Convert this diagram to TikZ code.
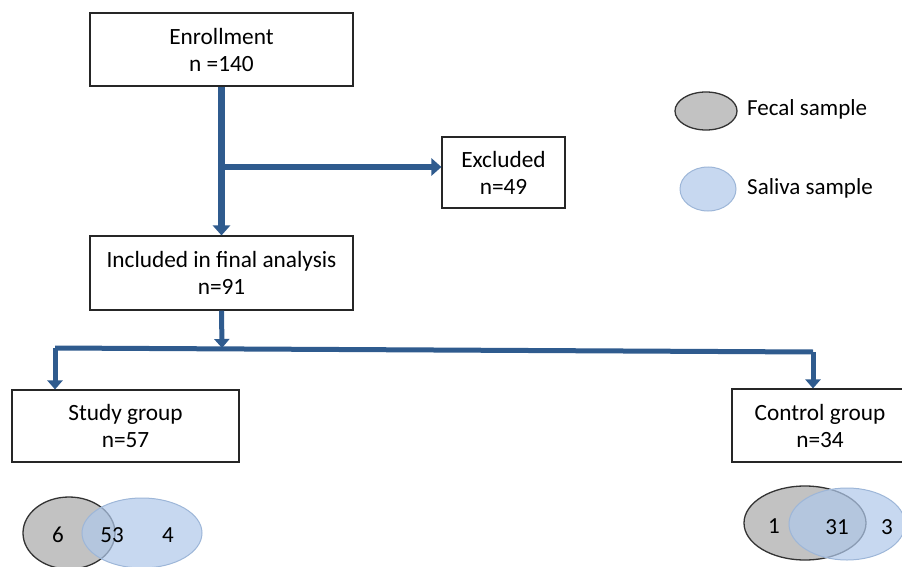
\documentclass[tikz,border=0pt]{standalone}
\usepackage{fontspec}
\setmainfont{Carlito}
\usetikzlibrary{arrows.meta,calc}
\definecolor{flowblue}{HTML}{2F5B8E}
\definecolor{fecal}{HTML}{C2C2C2}
\definecolor{saliva}{HTML}{AFC8EA}
\definecolor{salivaedge}{HTML}{9DB6D8}
\tikzset{
  x=1pt,y=-1pt,
  box/.style={draw=black!85,line width=1.1pt,fill=white,align=center,inner sep=0pt,
    font=\fontsize{23.3}{27}\selectfont},
  flow/.style={draw=flowblue,line width=6.5pt},
  flowarrow/.style={flow,-{Triangle[length=10pt,width=17pt]}},
  thinflow/.style={draw=flowblue,line width=5pt},
  thinarrow/.style={thinflow,-{Triangle[length=9pt,width=15pt]}},
  lbl/.style={font=\fontsize{23}{24}\selectfont,inner sep=0pt},
  fecalell/.style={fill=fecal,draw=black!80,line width=1.3pt},
  salivaell/.style={fill=saliva,fill opacity=0.7,draw=salivaedge,line width=1pt},
}
\begin{document}
\begin{tikzpicture}
\useasboundingbox (0,0) rectangle (902,567);
% boxes
\node[box,minimum width=263pt,minimum height=73pt] (enroll) at (221.5,49.5) {Enrollment\\n =140};
\node[box,minimum width=123pt,minimum height=71pt] (excl) at (503.5,172.5) {Excluded\\n=49};
\node[box,minimum width=263pt,minimum height=74pt] (incl) at (221.5,273) {Included in final analysis\\n=91};
\node[box,minimum width=227pt,minimum height=72pt] (study) at (125.5,426) {Study group\\n=57};
\node[box,minimum width=176pt,minimum height=73pt] (control) at (820,425.5) {Control group\\n=34};
% connectors
\coordinate (branch) at (222,167);
\coordinate (split) at (222,348);
\coordinate (sl) at (55,348);
\coordinate (sr) at (813,352);
\draw[flowarrow] (enroll.south) -- (incl.north);
\draw[flowarrow] (branch) -- (branch -| excl.west);
\draw[thinarrow] (incl.south) -- (split);
\draw[thinflow,line join=miter] (sl) -- (sr);
\draw[thinarrow] (sl) -- (sl |- study.north);
\draw[thinarrow] (sr) -- (sr |- control.north);
% legend
\draw[fecalell] (706,111) ellipse [x radius=31,y radius=19];
\node[lbl,anchor=west] (fl) at (747,109) {Fecal sample};
\draw[salivaell] (708,189) ellipse [x radius=28,y radius=22];
\node[lbl,anchor=west] (sl2) at (747,188) {Saliva sample};
% study venn
\draw[fecalell] (69,533) ellipse [x radius=46,y radius=36];
\draw[salivaell] (142,533) ellipse [x radius=60,y radius=35];
\node[lbl] (s6) at (58,535) {6};
\node[lbl] (s53) at (112,535) {53};
\node[lbl] (s4) at (168,535) {4};
% control venn
\draw[fecalell] (805,523) ellipse [x radius=61,y radius=37];
\draw[salivaell] (847,524) ellipse [x radius=58,y radius=36];
\node[lbl] (c1) at (774,526) {1};
\node[lbl] (c31) at (837,527) {31};
\node[lbl] (c3) at (887,527) {3};
\end{tikzpicture}
\end{document}
